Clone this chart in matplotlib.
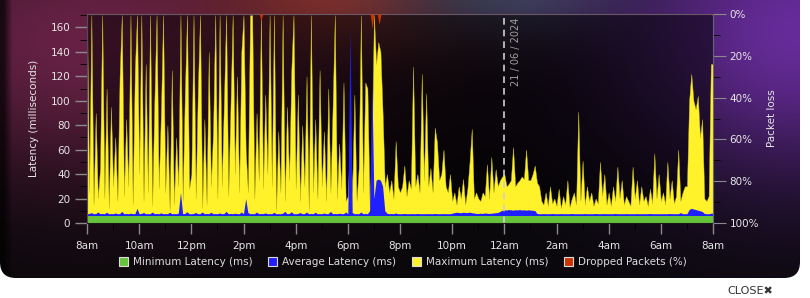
import numpy as np
import matplotlib.pyplot as plt
from matplotlib.patches import FancyBboxPatch, Patch
from matplotlib.ticker import MultipleLocator

# 5-minute samples, 8am (20/06) -> 8am (21/06), one row per hour
max_latency = [
    170, 25, 170, 15, 90, 20, 45, 170, 20, 110, 12, 95,     # 8am
    30, 70, 18, 120, 170, 22, 85, 30, 170, 15, 125, 170,    # 9am
    40, 170, 18, 130, 25, 170, 14, 100, 170, 28, 90, 170,   # 10am
    25, 80, 10, 125, 15, 70, 30, 170, 18, 105, 170, 28,     # 11am
    40, 170, 20, 110, 170, 12, 85, 15, 140, 30, 75, 170,    # 12pm
    20, 170, 30, 100, 170, 22, 95, 170, 40, 120, 25, 140,   # 1pm
    170, 60, 25, 170, 170, 20, 90, 35, 170, 28, 105, 40,    # 2pm
    170, 30, 170, 10, 75, 25, 170, 18, 95, 35, 125, 170,    # 3pm
    28, 105, 18, 80, 30, 120, 10, 170, 25, 85, 20, 125,     # 4pm
    30, 75, 18, 110, 25, 95, 170, 20, 65, 28, 115, 18,      # 5pm
    22, 75, 25, 105, 18, 45, 170, 25, 115, 110, 15, 60,     # 6pm
    170, 130, 148, 140, 90, 30, 40, 25, 35, 20, 67, 30,     # 7pm
    25, 30, 47, 22, 35, 28, 128, 30, 40, 25, 122, 35,       # 8pm
    106, 30, 45, 25, 78, 66, 35, 40, 60, 30, 25, 40,        # 9pm
    18, 25, 15, 30, 20, 36, 15, 28, 50, 77, 20, 25,         # 10pm
    20, 18, 25, 22, 48, 20, 54, 25, 44, 30, 35, 38,         # 11pm
    40, 30, 32, 35, 62, 30, 33, 35, 38, 36, 60, 35,         # 12am
    35, 40, 47, 33, 30, 18, 15, 25, 14, 30, 16, 20,         # 1am
    14, 28, 12, 22, 15, 35, 13, 20, 25, 15, 91, 18,         # 2am
    51, 15, 30, 18, 25, 14, 20, 16, 50, 22, 40, 15,         # 3am
    25, 14, 30, 18, 46, 20, 35, 15, 22, 18, 14, 46,         # 4am
    20, 35, 15, 30, 18, 22, 14, 28, 16, 57, 20, 40,         # 5am
    18, 25, 15, 50, 20, 35, 16, 22, 60, 18, 25, 30,         # 6am
    30, 100, 122, 100, 93, 104, 70, 85, 20, 18, 22, 130,    # 7am
    130,
]

avg_latency = [
    7.6, 7.8, 8.5, 7.6, 7.7, 9.0, 7.6, 7.8, 7.6, 8.8, 7.6, 7.7,
    7.6, 8.2, 7.6, 7.7, 9.5, 7.6, 7.8, 7.6, 8.0, 7.7, 7.6, 12.0,
    7.6, 7.8, 8.6, 7.6, 7.7, 7.6, 9.0, 7.6, 7.8, 7.6, 8.3, 7.6,
    7.7, 7.6, 8.8, 7.6, 7.7, 7.6, 8.0, 25.0, 7.6, 7.8, 9.2, 7.6,
    7.6, 7.8, 8.6, 7.6, 7.7, 9.0, 7.6, 7.8, 7.6, 8.8, 7.6, 7.7,
    7.6, 8.2, 7.6, 7.7, 9.5, 7.6, 7.8, 7.6, 8.0, 7.7, 7.6, 9.0,
    7.6, 20.0, 8.6, 7.6, 7.7, 7.6, 9.0, 7.6, 7.8, 7.6, 8.3, 7.6,
    7.7, 7.6, 8.8, 7.6, 7.7, 7.6, 8.0, 9.5, 7.6, 7.8, 9.2, 7.6,
    7.6, 7.8, 8.6, 7.6, 7.7, 9.0, 7.6, 7.8, 7.6, 8.8, 7.6, 7.7,
    7.6, 8.2, 7.6, 7.7, 9.5, 7.6, 7.8, 7.6, 8.0, 7.7, 7.6, 9.0,
    7.6, 160.0, 8.6, 7.6, 7.7, 7.6, 9.0, 7.6, 7.8, 7.6, 10.0, 120.0,
    20.0, 35.0, 36.0, 35.0, 30.0, 10.0, 8.0, 7.6, 7.8, 7.6, 8.2, 7.6,
    7.6, 7.6, 7.8, 7.6, 7.6, 7.7, 7.6, 7.6, 7.8, 7.6, 7.6, 7.6,
    7.6, 7.7, 7.6, 7.6, 7.8, 7.6, 7.6, 7.6, 7.7, 7.6, 7.6, 7.6,
    8.0, 8.5, 8.8, 8.6, 8.4, 8.8, 8.6, 8.5, 8.9, 8.4, 8.2, 7.8,
    7.8, 8.0, 7.8, 8.2, 8.0, 7.8, 8.0, 8.2, 8.4, 8.6, 9.5, 10.5,
    10.8, 10.6, 11.0, 10.8, 10.5, 10.9, 10.7, 11.0, 10.6, 10.8, 10.5, 10.8,
    10.6, 10.4, 10.2, 7.8, 7.6, 7.6, 7.7, 7.6, 7.6, 7.6, 7.8, 7.6,
    7.6, 7.6, 7.7, 7.6, 7.6, 7.6, 7.6, 7.8, 7.6, 7.6, 7.6, 7.6,
    7.6, 7.7, 7.6, 7.6, 7.6, 7.6, 7.8, 7.6, 7.6, 7.6, 7.7, 7.6,
    7.6, 7.6, 7.6, 7.8, 7.6, 7.6, 7.6, 7.6, 7.7, 7.6, 7.6, 7.6,
    7.6, 7.7, 7.6, 7.6, 7.6, 7.6, 7.6, 7.8, 7.6, 7.6, 7.6, 7.6,
    7.6, 7.6, 7.6, 7.6, 7.8, 7.6, 7.6, 7.6, 7.6, 8.5, 7.6, 7.6,
    7.6, 11.0, 12.0, 11.5, 11.0, 10.5, 10.0, 9.5, 7.8, 7.6, 7.6, 8.0,
    8.0,
]

min_hours = [0, 24]
min_latency = [5.8, 5.8]

loss_hours = [0, 6.6, 6.67, 6.74, 10.86, 10.93, 11.0, 11.13, 11.2, 11.27, 23.93, 24]
loss_pct = [0, 0, 3, 0, 0, 7, 0, 0, 5, 0, 0, 1]

hour_ticks = list(range(0, 25, 2))
hour_labels = ["8am", "10am", "12pm", "2pm", "4pm", "6pm", "8pm", "10pm",
               "12am", "2am", "4am", "6am", "8am"]
date_hour = 16
date_text = "21 / 06 / 2024"

hours = np.arange(len(max_latency)) * 5 / 60

W, H = 810, 298
fig = plt.figure(figsize=(W / 100, H / 100), dpi=100, facecolor="white")

# blurred backdrop behind the dark panel
bg = fig.add_axes([0, 0, 1, 1])
bg.set_xlim(0, W)
bg.set_ylim(H, 0)
bg.axis("off")
yy, xx = np.mgrid[0:H, 0:W]
base = np.array([0.035, 0.03, 0.04])
blobs = [((90, 40), (260, 140), (0.40, 0.13, 0.27)),
         ((340, -10), (130, 60), (0.50, 0.18, 0.16)),
         ((520, -10), (120, 50), (0.22, 0.25, 0.33)),
         ((800, 30), (190, 150), (0.40, 0.17, 0.60))]
img = np.tile(base, (H, W, 1))
for (cx, cy), (rx, ry), col in blobs:
    w = np.exp(-(((xx - cx) / rx) ** 2 + ((yy - cy) / ry) ** 2))[..., None]
    img = img * (1 - w) + np.array(col) * w
edge = np.clip(xx / 12.0, 0.3, 1)[..., None]
img = img * edge
im = bg.imshow(img, extent=(0, W, H, 0), aspect="auto", zorder=0)
panel = FancyBboxPatch((0, -40), 800, 318, boxstyle="round,pad=0,rounding_size=16",
                       transform=bg.transData, facecolor="none", edgecolor="none")
bg.add_patch(panel)
im.set_clip_path(panel)

# main chart
ax = fig.add_axes([87 / W, (H - 223) / H, 626 / W, 209 / H])
ax.set_facecolor((0, 0, 0, 0.5))
ax.fill_between(hours, 0, max_latency, color="#fff22a", lw=0.3, edgecolor="#c8c020")
ax.fill_between(hours, 0, avg_latency, color="#2020ff", lw=0)
ax.fill_between(min_hours, 0, min_latency, color="#66c43a", lw=0)
ax.axvline(date_hour, color="#cfcfcf", lw=1.2, dashes=(4, 3))
ax.text(date_hour + 0.25, 168, date_text, rotation=90, ha="left", va="top",
        color="#a0a0a0", fontsize=7)

ax.set_xlim(0, 24)
ax.set_ylim(0, 171)
ax.set_xticks(hour_ticks)
ax.set_xticklabels(hour_labels)
ax.xaxis.set_minor_locator(MultipleLocator(1))
ax.yaxis.set_major_locator(MultipleLocator(20))
ax.yaxis.set_minor_locator(MultipleLocator(10))
ax.tick_params(colors="#8a8a8a", labelcolor="#e6e6e6", labelsize=7.5, width=1)
ax.tick_params(axis="y", which="major", length=9, pad=3)
ax.tick_params(axis="y", which="minor", length=5)
ax.tick_params(axis="x", which="major", length=8, pad=5)
ax.tick_params(axis="x", which="minor", length=4)
ax.spines["top"].set_color("#6a5868")
ax.spines["left"].set_color("#5a4a55")
ax.spines["bottom"].set_color("#1a1a1a")
ax.spines["right"].set_visible(False)

ax2 = ax.twinx()
ax2.fill_between(loss_hours, 0, loss_pct, color="#cc3300", lw=0)
ax2.set_ylim(100, 0)
ax2.yaxis.set_major_locator(MultipleLocator(20))
ax2.yaxis.set_minor_locator(MultipleLocator(10))
ax2.yaxis.set_major_formatter(lambda v, p: f"{v:.0f}%")
ax2.tick_params(colors="#8a8a8a", labelcolor="#e6e6e6", labelsize=7.5)
ax2.tick_params(axis="y", which="major", length=9, pad=3)
ax2.tick_params(axis="y", which="minor", length=5)
for s in ["top", "left", "bottom"]:
    ax2.spines[s].set_visible(False)
ax2.spines["right"].set_color("#6a6080")

fig.text(34 / W, 1 - 118.5 / H, "Latency (milliseconds)", rotation=90,
         ha="center", va="center", color="#e6e6e6", fontsize=7.5)
fig.text(772 / W, 1 - 118.5 / H, "Packet loss", rotation=90,
         ha="center", va="center", color="#e6e6e6", fontsize=7.5)

handles = [Patch(facecolor="#66c43a", edgecolor="#dddddd", lw=0.8),
           Patch(facecolor="#2020ff", edgecolor="#dddddd", lw=0.8),
           Patch(facecolor="#fff22a", edgecolor="#dddddd", lw=0.8),
           Patch(facecolor="#cc3300", edgecolor="#dddddd", lw=0.8)]
labels = ["Minimum Latency (ms)", "Average Latency (ms)",
          "Maximum Latency (ms)", "Dropped Packets (%)"]
fig.legend(handles, labels, loc="center", bbox_to_anchor=(0.497, 1 - 262 / H),
           ncol=4, frameon=False, fontsize=7.5, labelcolor="#dddddd",
           handlelength=0.9, handleheight=0.9, handletextpad=0.45,
           columnspacing=1.5)

# "CLOSE" button near the bottom edge of the screenshot
fig.text(727 / W, 1 - 286 / H, "CLOSE\u2716", ha="left", va="top",
         color="#333333", fontsize=8)

fig.savefig("out.png", dpi=100, facecolor="white")
